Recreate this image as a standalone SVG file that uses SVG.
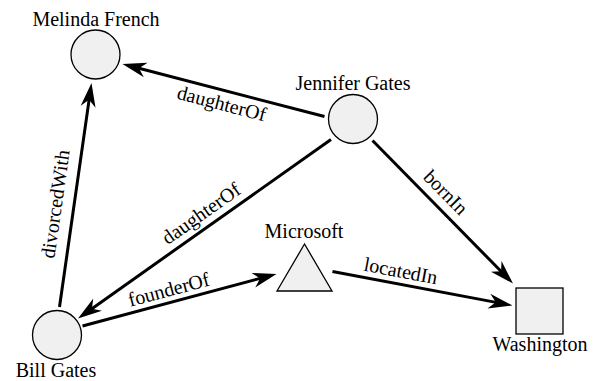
<svg xmlns="http://www.w3.org/2000/svg" width="597" height="381" viewBox="0 0 597 381">
<style>
.node{fill:#f0f0f0;stroke:#000;stroke-width:1.3}
.lbl{font-family:"Liberation Serif","Times New Roman",serif;font-size:20px;fill:#000;text-anchor:middle}
.edge{stroke:#000;stroke-width:3;fill:none;marker-end:url(#arr)}
</style>
<defs>
<marker id="arr" markerUnits="userSpaceOnUse" markerWidth="24" markerHeight="16" viewBox="0 0 24 16" refX="10" refY="8" orient="auto">
<path d="M0,0.5 L24,8 L0,15.5 L7,8 Z" fill="#000"/>
</marker>
</defs>
<rect width="597" height="381" fill="#fff"/>
<g id="connectors">
<line class="edge" x1="324.5" y1="116.5" x2="136.05" y2="67.52"/>
<line class="edge" x1="331" y1="139.5" x2="89.43" y2="310.41"/>
<line class="edge" x1="59.5" y1="307" x2="89.52" y2="96.86"/>
<line class="edge" x1="82.5" y1="326" x2="262.98" y2="277.63"/>
<line class="edge" x1="332.5" y1="271.5" x2="498.74" y2="302.9"/>
<line class="edge" x1="372.5" y1="140.5" x2="503.19" y2="273.51"/>
<text class="lbl" transform="translate(220,110) rotate(14.6)">daughterOf</text>
<text class="lbl" transform="translate(205,219) rotate(-35.3)">daughterOf</text>
<text class="lbl" transform="translate(62,205) rotate(-81.9)">divorcedWith</text>
<text class="lbl" transform="translate(170.5,296) rotate(-15)">founderOf</text>
<text class="lbl" transform="translate(399.5,277.5) rotate(10.7)">locatedIn</text>
<text class="lbl" transform="translate(441,197) rotate(45.5)">bornIn</text>
</g>
<g id="melinda">
<circle class="node" cx="95.5" cy="54.5" r="24.5"/>
<text class="lbl" x="96" y="26">Melinda French</text>
</g>
<g id="jennifer">
<circle class="node" cx="353" cy="119" r="24.5"/>
<text class="lbl" x="353" y="90">Jennifer Gates</text>
</g>
<g id="bill">
<circle class="node" cx="57" cy="335" r="24.5"/>
<text class="lbl" x="56" y="377">Bill Gates</text>
</g>
<g id="microsoft">
<polygon class="node" points="304.5,244 277,291 332,291"/>
<text class="lbl" x="304" y="238">Microsoft</text>
</g>
<g id="washington">
<rect class="node" x="516" y="288" width="47" height="46"/>
<text class="lbl" x="540" y="351">Washington</text>
</g>
</svg>
